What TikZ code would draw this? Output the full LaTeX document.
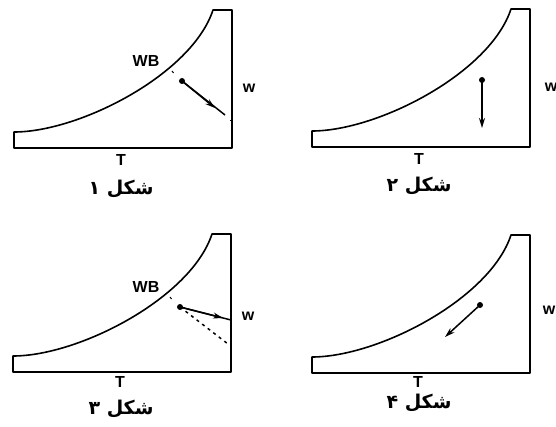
\documentclass[tikz,border=0pt]{standalone}
\usepackage{fontspec}
\setmainfont{Liberation Sans}
\newfontfamily\arabicfont[Script=Arabic]{DejaVu Sans}
\TeXXeTstate=1
\usetikzlibrary{arrows.meta}
\begin{document}
\begin{tikzpicture}[x=1pt,y=-1pt,
  outline/.style={line width=1.6pt,line join=round},
  tickmark/.style={line width=1pt},
  dotnode/.style={circle,fill=black,inner sep=0pt,minimum size=6pt},
  arr/.style={line width=1.5pt,-{Stealth[length=10pt,width=6pt]}},
  dashline/.style={line width=1.5pt,dash pattern=on 3pt off 4pt},
  lbl/.style={font=\bfseries\fontsize{16}{16}\selectfont,inner sep=0pt},
  figcap/.style={font=\arabicfont\bfseries\fontsize{19}{19}\selectfont,inner sep=0pt},
  panel/.pic={
    \draw[outline] (0,0) -- (0,-16) .. controls (66,-16) and (178,-74) .. (199,-138)
      -- (218,-138) -- (218,0) -- cycle;
  }]
\useasboundingbox (0,0) rectangle (556,427);

% ---------- panel 1 ----------
\pic at (14,148) {panel};
\draw[tickmark] (172,71) -- ++(1.5,2);
\node[lbl] (wb1) at (146,61) {WB};
\node[lbl] (w1) at (249,88) {w};
\node[lbl] (t1) at (121,160) {T};
\node[figcap] (c1) at (121,189) {\beginR شکل ۱\endR};
\node[dotnode] (d1) at (182,81) {};
\coordinate (e1) at (225,115);
\coordinate (m1) at (215,108);
\draw[line width=1.5pt] (d1.center) -- (e1);
\draw[arr] (d1.center) -- (m1);
\draw[tickmark] (232,121) -- ++(-2.5,0);

% ---------- panel 2 ----------
\pic at (312,147) {panel};
\node[lbl] (w2) at (551,87) {w};
\node[lbl] (t2) at (419,159) {T};
\node[figcap] (c2) at (419,186) {\beginR شکل ۲\endR};
\node[dotnode] (d2) at (482,80) {};
\coordinate (e2) at (482,128);
\draw[arr] (d2.center) -- (e2);

% ---------- panel 3 ----------
\begin{scope}[shift={(13,372)},yscale=0.965]
\pic at (0,0) {panel};
\end{scope}
\draw[tickmark] (170,297) -- ++(1.5,2);
\node[lbl] (wb3) at (146,287) {WB};
\node[lbl] (w3) at (248,316) {w};
\node[lbl] (t3) at (120,382) {T};
\node[figcap] (c3) at (121,409) {\beginR شکل ۳\endR};
\node[dotnode] (d3) at (180,307) {};
\coordinate (e3) at (231,320);
\coordinate (m3) at (223,318);
\coordinate (f3) at (228,344);
\draw[line width=1.5pt] (d3.center) -- (e3);
\draw[arr] (d3.center) -- (m3);
\draw[dashline] (d3.center) -- (f3);
\draw[tickmark] (232,347) -- ++(-2.5,0);

% ---------- panel 4 ----------
\begin{scope}[shift={(312,373)},yscale=0.99]
\pic at (0,0) {panel};
\end{scope}
\node[lbl] (w4) at (549,310) {w};
\node[lbl] (t4) at (418,382) {T};
\node[figcap] (c4) at (419,403) {\beginR شکل ۴\endR};
\node[dotnode] (d4) at (480,305) {};
\coordinate (e4) at (445,337);
\draw[arr] (d4.center) -- (e4);
\end{tikzpicture}
\end{document}
